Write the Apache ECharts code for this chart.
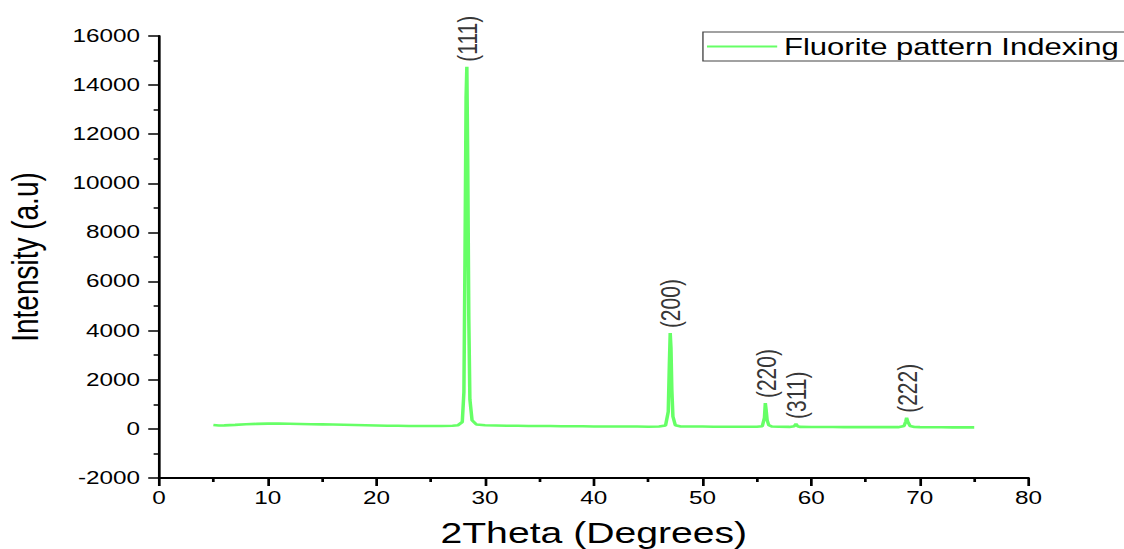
<!DOCTYPE html>
<html>
<head>
<meta charset="utf-8">
<script src="https://cdn.jsdelivr.net/npm/echarts@6/dist/echarts.min.js"></script>
<style>
html,body{margin:0;padding:0;overflow:hidden;background:#fff;width:1124px;height:549px;}
#chart{width:832.6px;height:549px;transform:scaleX(1.35);transform-origin:0 0;}
</style>
</head>
<body>
<div id="chart"></div>
<script>
// 2Theta values (degrees)
var twoTheta = [5,5.5,6,7,8,9,10,11,12,13,14,15,16,17,18,19,20,21,22,23,24,25,26,27,27.5,27.9,28.05,28.15,28.25,28.32,28.4,28.5,28.6,28.8,29.2,30,31,32,33,34,35,36,37,38,39,40,41,42,43,44,45,46,46.6,46.85,46.95,47.03,47.1,47.18,47.28,47.5,48,49,50,51,52,53,54,55,55.5,55.7,55.78,55.85,55.95,56.1,56.4,57,58,58.45,58.6,58.75,59,60,61,62,63,64,65,66,67,68,68.55,68.7,68.78,68.9,69.1,69.5,70,71,72,73,74,75];
// Intensity values (a.u)
var intensity = [160,140,145,165,190,205,215,220,210,200,190,185,180,170,160,150,140,130,125,120,120,115,120,130,150,280,1500,7000,13500,14750,11000,4500,1200,350,180,150,140,130,125,120,115,115,110,110,105,100,100,95,95,95,90,95,140,700,2600,3900,3300,1600,500,150,100,95,95,90,90,90,85,85,110,450,1050,800,350,150,95,85,80,110,200,110,80,75,75,75,72,72,70,70,70,70,120,300,450,280,120,75,70,65,65,60,60,60];
// Peak annotations
var peakPos = [28.32,47.03,55.78,58.6,68.78];
var peakInt = [14750,3900,1050,200,450];
var peakLabels = ['(111)','(200)','(220)','(311)','(222)'];
var xTicks = {min:0,max:80,interval:10};
var yTicks = {min:-2000,max:16000,interval:2000};

var seriesName = 'Fluorite pattern Indexing';
var lineData = twoTheta.map(function(x,i){return [x,intensity[i]];});
var labelData = peakPos.map(function(x,i){return {value:[x,peakInt[i]],label:{formatter:peakLabels[i]}};});

var FONT = 'Liberation Sans, Arial, sans-serif';
var chart = echarts.init(document.getElementById('chart'), null, {renderer:'svg'});
chart.setOption({
  animation:false,
  textStyle:{fontFamily:FONT,color:'#000'},
  grid:{left:117.8,right:71.1,top:36,bottom:71,containLabel:false,outerBoundsMode:'none'},
  legend:{
    data:[{name:seriesName,icon:'rect'}],
    left:520.7, top:32,
    padding:[3,14,3,3],
    borderColor:'#444', borderWidth:1,
    itemWidth:52, itemHeight:2, itemGap:6,
    itemStyle:{color:'#66ff66'},
    textStyle:{fontSize:23,fontFamily:FONT,color:'#000'}
  },
  xAxis:{
    type:'value', min:xTicks.min, max:xTicks.max, interval:xTicks.interval,
    name:'2Theta (Degrees)', nameLocation:'middle', nameGap:40,
    nameTextStyle:{fontSize:29,fontFamily:FONT,color:'#000'},
    axisLine:{show:true,onZero:false,lineStyle:{color:'#000',width:2}},
    axisTick:{show:true,inside:false,length:8,lineStyle:{color:'#000',width:2}},
    minorTick:{show:true,splitNumber:2,length:4,lineStyle:{color:'#000',width:2}},
    axisLabel:{fontSize:18,fontFamily:FONT,color:'#000',margin:11,formatter:function(v){return String(v);}},
    splitLine:{show:false}
  },
  yAxis:{
    type:'value', min:yTicks.min, max:yTicks.max, interval:yTicks.interval,
    name:'Intensity (a.u)', nameLocation:'middle', nameGap:85,
    nameTextStyle:{fontSize:28,fontFamily:FONT,color:'#000'},
    axisLine:{show:true,onZero:false,lineStyle:{color:'#000',width:2}},
    axisTick:{show:true,inside:false,length:8,lineStyle:{color:'#000',width:1.5}},
    minorTick:{show:true,splitNumber:2,length:4,lineStyle:{color:'#000',width:1.5}},
    axisLabel:{fontSize:18,fontFamily:FONT,color:'#000',margin:14,formatter:function(v){return String(v);}},
    splitLine:{show:false}
  },
  series:[
    {
      name:seriesName, type:'line', data:lineData, symbol:'none', smooth:false,
      lineStyle:{color:'#66ff66',width:2.6}, itemStyle:{color:'#66ff66'}
    },
    {
      name:'labels', type:'scatter', data:labelData, symbolSize:0, silent:true,
      label:{show:true,position:'top',distance:5,rotate:90,align:'left',verticalAlign:'middle',
        fontSize:21,fontFamily:FONT,color:'#000'}
    }
  ]
});
</script>
</body>
</html>
